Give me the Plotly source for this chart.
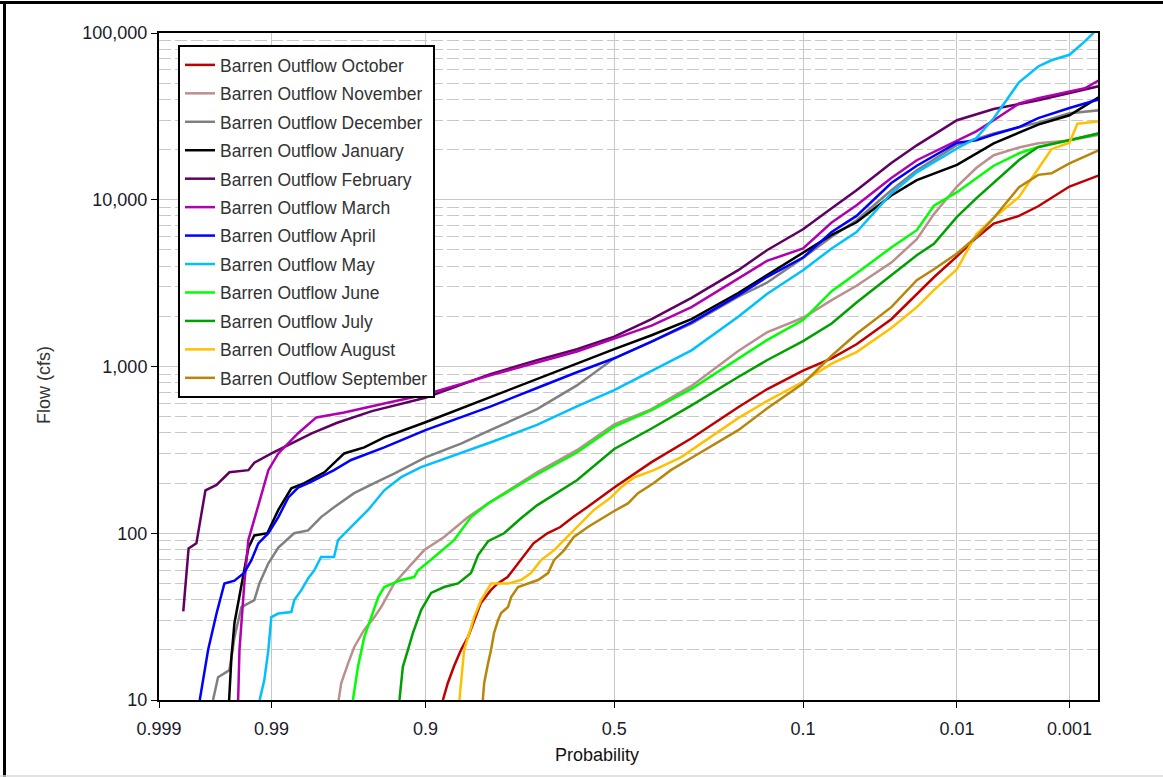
import plotly.graph_objects as go
from statistics import NormalDist

# ---------------- data (exceedance probability, flow in cfs) ----------------
MONTHS = ["October", "November", "December", "January", "February", "March",
          "April", "May", "June", "July", "August", "September"]

OCT_P = [0.8776, 0.8708, 0.8615, 0.8508, 0.8396, 0.8297, 0.8175, 0.7990, 0.7855, 0.7655,
         0.7376, 0.7082, 0.6751, 0.6428, 0.6099, 0.5730, 0.5, 0.4, 0.3, 0.2, 0.15, 0.1,
         0.07, 0.05, 0.03, 0.02, 0.015, 0.01, 0.007, 0.005, 0.003, 0.002, 0.001, 0.0005]
OCT_Q = [10, 12.6, 16, 20, 23.8, 29.3, 38.1, 45.6, 50, 54.6,
         69, 87, 100, 109, 125, 143, 188, 267, 371, 570, 730, 945,
         1120, 1360, 1920, 2700, 3430, 4580, 5900, 7200, 8000, 9140, 12000, 14000]

NOV_P = [0.9693, 0.9681, 0.9645, 0.9612, 0.9552, 0.9483, 0.9432, 0.9324, 0.9191, 0.9017,
         0.8760, 0.8394, 0.8040, 0.7, 0.6, 0.5, 0.4, 0.3, 0.2, 0.15, 0.1, 0.07, 0.05,
         0.03, 0.02, 0.015, 0.01, 0.007, 0.005, 0.003, 0.002, 0.001, 0.0005]
NOV_Q = [10, 12.6, 16.7, 20.8, 26.3, 31.4, 36.1, 50, 62, 79,
         95, 125, 151, 232, 315, 450, 555, 765, 1240, 1600, 1960, 2500, 3050,
         4200, 5800, 8200, 12000, 15500, 18500, 20600, 21800, 22700, 24500]

DEC_P = [0.99677, 0.99642, 0.99550, 0.99503, 0.99431, 0.99272, 0.99200, 0.99056, 0.98870,
         0.98511, 0.98115, 0.97671, 0.97141, 0.96130, 0.94834, 0.93241, 0.9, 0.85, 0.8,
         0.7, 0.6, 0.5, 0.4, 0.3, 0.2, 0.15, 0.1, 0.07, 0.05, 0.03, 0.02, 0.01, 0.005,
         0.002, 0.001, 0.0005]
DEC_Q = [10, 13.7, 15.1, 23.8, 36.1, 39.7, 50, 66, 82,
         100, 104, 125, 143, 174, 200, 228, 285, 346, 415,
         555, 770, 1120, 1410, 1810, 2620, 3180, 4480, 6000, 7540, 11400, 15000, 21300, 25000,
         29000, 33000, 34400]

JAN_P = [0.99553, 0.99532, 0.99503, 0.99431, 0.99349, 0.99272, 0.99074, 0.98870, 0.98581,
         0.98231, 0.97546, 0.96660, 0.95515, 0.94074, 0.9, 0.8, 0.7, 0.6, 0.5, 0.4, 0.3,
         0.2, 0.15, 0.1, 0.07, 0.05, 0.03, 0.02, 0.01, 0.005, 0.002, 0.001, 0.0005]
JAN_Q = [10, 18, 29, 50, 82, 97, 100, 138, 186,
         200, 232, 301, 327, 376, 463, 655, 841, 1050, 1270, 1540, 1925,
         2760, 3520, 4800, 6150, 7330, 10600, 13100, 16200, 21800, 28200, 32100, 41200]

FEB_P = [0.99828, 0.99807, 0.99772, 0.99724, 0.99653, 0.99550, 0.99349, 0.99272, 0.99,
         0.98581, 0.98, 0.97, 0.95, 0.9, 0.8, 0.7, 0.6, 0.5, 0.4, 0.3, 0.2, 0.15, 0.1,
         0.07, 0.05, 0.03, 0.02, 0.01, 0.005, 0.002, 0.001, 0.0005]
FEB_Q = [34, 81, 87, 181, 195, 232, 239, 265, 301,
         346, 397, 460, 540, 650, 900, 1092, 1270, 1510, 1925, 2580, 3780, 4980, 6650,
         8900, 11400, 16600, 21200, 30000, 35000, 39500, 43700, 48000]

MAR_P = [0.99466, 0.99452, 0.99398, 0.99350, 0.99215, 0.99056, 0.98870, 0.98406, 0.97842,
         0.96660, 0.94074, 0.9, 0.8, 0.7, 0.6, 0.5, 0.4, 0.3, 0.2, 0.15, 0.1, 0.07, 0.05,
         0.03, 0.02, 0.01, 0.007, 0.005, 0.003, 0.002, 0.001, 0.0007, 0.0005]
MAR_Q = [10, 20, 50, 91, 147, 239, 301, 398, 495,
         530, 600, 680, 885, 1060, 1230, 1470, 1760, 2270, 3360, 4300, 5100, 7300, 9270,
         13500, 17260, 22700, 25700, 30000, 37800, 40700, 44700, 46600, 52000]

APR_P = [0.99755, 0.99708, 0.99653, 0.99593, 0.99503, 0.99398, 0.99311, 0.99215, 0.99056,
         0.98870, 0.98652, 0.98406, 0.98022, 0.97141, 0.96295, 0.94074, 0.9, 0.8, 0.7, 0.6,
         0.5, 0.4, 0.3, 0.2, 0.15, 0.1, 0.07, 0.05, 0.03, 0.02, 0.01, 0.007, 0.005, 0.003,
         0.002, 0.001, 0.0005]
APR_Q = [10, 20, 33, 50, 52, 58, 69, 87, 100,
         125, 164, 188, 203, 239, 275, 327, 415, 575, 743, 924,
         1120, 1410, 1840, 2670, 3440, 4500, 6400, 8000, 12600, 16000, 22000, 22700, 24600, 27300,
         30900, 35500, 40000]

MAY_P = [0.99196, 0.99123, 0.99056, 0.99004, 0.98870, 0.98581, 0.98507, 0.98317, 0.98110,
         0.97912, 0.97671, 0.97141, 0.96960, 0.96295, 0.95263, 0.94074, 0.92591, 0.90506,
         0.85, 0.8, 0.7, 0.6, 0.5, 0.4, 0.3, 0.2, 0.15, 0.1, 0.07, 0.05, 0.03, 0.02, 0.01,
         0.007, 0.005, 0.003, 0.002, 0.0015, 0.001, 0.0007, 0.000573, 0.0005]
MAY_Q = [10, 13.2, 20, 31.4, 33, 33.7, 39.7, 45.6, 53.8,
         60, 72, 72, 91, 109, 138, 181, 217, 249,
         302, 350, 446, 576, 722, 940, 1250, 1990, 2720, 3780, 5100, 6400, 10900, 14600, 20300,
         23400, 30800, 50600, 63000, 68600, 74000, 89000, 100000, 118000]

JUN_P = [0.96197, 0.95907, 0.95515, 0.95052, 0.94542, 0.94074, 0.92591, 0.91277, 0.90841,
         0.88914, 0.86148, 0.83449, 0.80400, 0.7, 0.6, 0.5, 0.4, 0.3, 0.2, 0.15, 0.1, 0.07,
         0.05, 0.03, 0.02, 0.015, 0.01, 0.007, 0.005, 0.003, 0.002, 0.001, 0.0005]
JUN_Q = [10, 15.8, 23.8, 31.4, 41.4, 47.6, 52.4, 54.6, 60,
         72, 91, 125, 151, 225, 305, 436, 548, 735, 1120, 1440, 1900, 2830,
         3620, 5170, 6570, 9200, 11100, 13400, 16000, 19000, 20700, 22700, 25000]

JUL_P = [0.92757, 0.92436, 0.91938, 0.91418, 0.90506, 0.89306, 0.87596, 0.85543, 0.83449,
         0.82226, 0.80400, 0.77277, 0.73661, 0.7, 0.6, 0.5, 0.4, 0.3, 0.2, 0.15, 0.1, 0.07,
         0.05, 0.03, 0.02, 0.015, 0.01, 0.007, 0.005, 0.003, 0.002, 0.001, 0.0005]
JUL_Q = [10, 15.8, 19.9, 25.2, 34.6, 43.9, 47.6, 50, 57.7,
         74, 89.6, 100, 123, 147, 208, 320, 425, 585, 865, 1090, 1420, 1810,
         2420, 3530, 4650, 5450, 7900, 10200, 12700, 17300, 20700, 22700, 25000]

AUG_P = [0.85337, 0.84591, 0.83941, 0.82921, 0.81700, 0.79841, 0.76454, 0.73661, 0.71397,
         0.69041, 0.65873, 0.63345, 0.60796, 0.55488, 0.50878, 0.48205, 0.44670, 0.39396,
         0.32563, 0.2, 0.15, 0.1, 0.07, 0.05, 0.03, 0.02, 0.015, 0.01, 0.007, 0.005, 0.003,
         0.002, 0.0015, 0.001, 0.000834, 0.0005]
AUG_Q = [10, 20, 23.8, 31.4, 39.7, 50, 50, 52.4, 57.7,
         69, 79, 91, 104, 138, 164, 188, 216, 239,
         285, 490, 620, 810, 1040, 1220, 1700, 2270, 2870, 3830, 6200, 7800, 10400,
         15400, 20100, 22000, 28600, 29500]

SEP_P = [0.81382, 0.81139, 0.80400, 0.79841, 0.79277, 0.78466, 0.77876, 0.76454, 0.75804,
         0.74311, 0.72071, 0.69742, 0.67328, 0.65873, 0.63345, 0.60796, 0.57103, 0.52790,
         0.5, 0.46295, 0.43605, 0.39396, 0.35049, 0.30854, 0.2, 0.15, 0.1, 0.07, 0.05,
         0.03, 0.02, 0.015, 0.01, 0.007, 0.005, 0.003, 0.002, 0.0015, 0.001, 0.0005]
SEP_Q = [10, 12.6, 16.7, 20, 25.2, 30.2, 33.2, 36.1, 41.4,
         47.6, 50, 52.4, 57.7, 69, 79, 95, 109, 125,
         136, 151, 174, 200, 239, 275, 415, 560, 790, 1160, 1570,
         2270, 3290, 3830, 4760, 5980, 7770, 11900, 14100, 14400, 16500, 19800]

SERIES_P = [OCT_P, NOV_P, DEC_P, JAN_P, FEB_P, MAR_P, APR_P, MAY_P, JUN_P, JUL_P, AUG_P, SEP_P]
SERIES_Q = [OCT_Q, NOV_Q, DEC_Q, JAN_Q, FEB_Q, MAR_Q, APR_Q, MAY_Q, JUN_Q, JUL_Q, AUG_Q, SEP_Q]

COLORS = ["#c00000", "#bc8f8f", "#808080", "#000000", "#600060", "#b000b0",
          "#0000ff", "#00c0ff", "#00ff00", "#00a000", "#ffc000", "#b8860b"]

X_TICK_P = [0.999, 0.99, 0.9, 0.5, 0.1, 0.01, 0.001]
X_TICK_TEXT = ["0.999", "0.99", "0.9", "0.5", "0.1", "0.01", "0.001"]
Y_TICKS = [10, 100, 1000, 10000, 100000]
Y_TICK_TEXT = ["10", "100", "1,000", "10,000", "100,000"]

# normal probability scale: exceedance probability -> standard normal quantile
ND = NormalDist()


def zscale(p):
    return ND.inv_cdf(1.0 - p)


FONT = "Liberation Sans, Arial, sans-serif"

fig = go.Figure()
for name, ps, qs, col in zip(MONTHS, SERIES_P, SERIES_Q, COLORS):
    fig.add_trace(go.Scatter(
        x=[zscale(p) for p in ps], y=qs, mode="lines",
        name="Barren Outflow " + name, legendgroup=name,
        line=dict(color=col, width=2.5),
    ))

# plot area geometry (px)
L, R, T, B = 159, 1098, 33, 700
W, H = 1163, 777

fig.update_layout(
    width=W, height=H,
    margin=dict(l=L, r=W - R, t=T, b=H - B, pad=0),
    paper_bgcolor="white", plot_bgcolor="white",
    font=dict(family=FONT, color="#222222"),
    showlegend=True,
    legend=dict(
        x=(178 - L) / (R - L), y=(B - 45) / (B - T), xanchor="left", yanchor="top",
        bgcolor="white", bordercolor="black", borderwidth=2,
        font=dict(family=FONT, size=17.5, color="#333333"),
        traceorder="grouped", tracegroupgap=2.7, itemwidth=30,
    ),
    xaxis=dict(
        range=[zscale(0.999), zscale(0.000512)],
        tickmode="array", tickvals=[zscale(p) for p in X_TICK_P], ticktext=X_TICK_TEXT,
        ticks="outside", ticklen=6, tickcolor="black", tickwidth=1,
        ticklabelstandoff=5,
        showgrid=True, gridcolor="#c8c8c8", gridwidth=1,
        showline=True, linecolor="black", linewidth=2, mirror=True,
        zeroline=False, tickfont=dict(size=18, color="#1a1a2a"),
    ),
    yaxis=dict(
        type="log", range=[1, 5],
        tickmode="array", tickvals=Y_TICKS, ticktext=Y_TICK_TEXT,
        ticks="outside", ticklen=6, tickcolor="black", tickwidth=1,
        showgrid=True, gridcolor="#c8c8c8", gridwidth=1,
        minor=dict(dtick="D1", showgrid=True, gridcolor="#c8c8c8", griddash="12px,4px",
                   ticks=""),
        showline=True, linecolor="black", linewidth=2, mirror=True,
        zeroline=False, tickfont=dict(size=18, color="#1a1a2a"),
    ),
    annotations=[
        dict(text="Flow (cfs)", textangle=-90, xref="paper", yref="paper",
             x=(44 - L) / (R - L), y=(B - 385) / (B - T), showarrow=False,
             xanchor="center", yanchor="middle",
             font=dict(size=18, color="#333333")),
        dict(text="Probability", xref="paper", yref="paper",
             x=(597 - L) / (R - L), y=(B - 755) / (B - T), showarrow=False,
             xanchor="center", yanchor="middle",
             font=dict(size=18, color="#111111")),
    ],
)


def px_x(v):
    return (v - L) / (R - L)


def px_y(v):
    return (B - v) / (B - T)


# outer frame of the picture
fig.add_shape(type="line", xref="paper", yref="paper",
              x0=px_x(0), x1=px_x(W), y0=px_y(2.5), y1=px_y(2.5),
              line=dict(color="black", width=3))
fig.add_shape(type="line", xref="paper", yref="paper",
              x0=px_x(4.5), x1=px_x(4.5), y0=px_y(1), y1=px_y(777),
              line=dict(color="black", width=3))
fig.add_shape(type="line", xref="paper", yref="paper",
              x0=px_x(0), x1=px_x(W), y0=px_y(776), y1=px_y(776),
              line=dict(color="#d8d8d8", width=1.5))

fig.write_html("out.html")
